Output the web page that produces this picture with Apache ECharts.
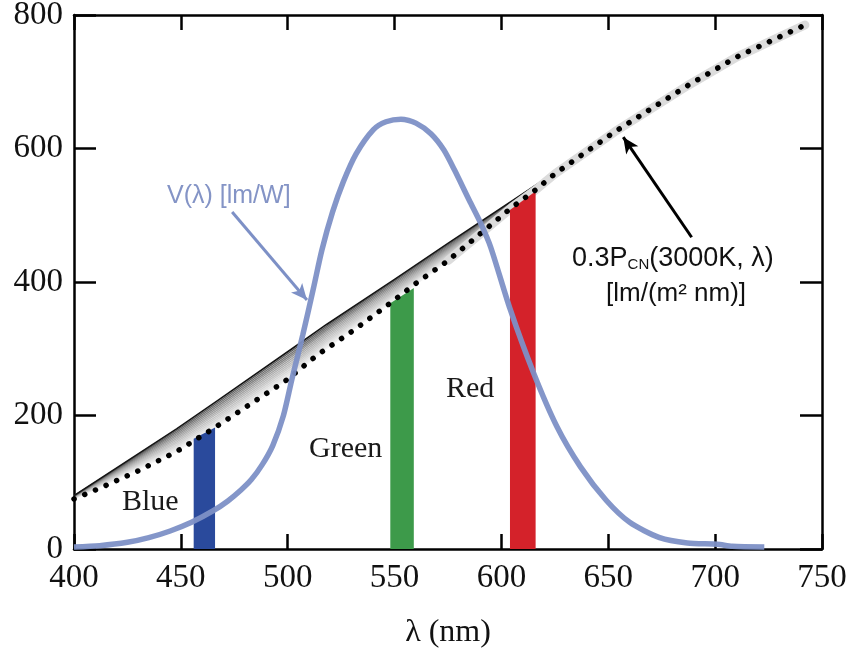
<!DOCTYPE html>
<html>
<head>
<meta charset="utf-8">
<script src="https://cdn.jsdelivr.net/npm/echarts@6/dist/echarts.min.js"></script>
<style>
html,body{margin:0;padding:0;background:#fff;}
#chart{width:855px;height:652px;}
</style>
</head>
<body>
<div id="chart"></div>
<script>
// ---- data ----
const xTicks = [400, 450, 500, 550, 600, 650, 700, 750];
const yTicks = [0, 200, 400, 600, 800];

// V(lambda) [lm/W]
const vLambda = [[400,3],[412,5],[425,10],[435,17],[445,27],[455,40],[465,57],[472,72],[478,88],[483,104],[488,126],[493,155],[498,200],[502,255],[507,320],[512,390],[516,448],[521,505],[526,550],[532,592],[540,628],[546,640],[553,644],[560,638],[567,622],[573,598],[578,568],[585,522],[590,490],[595,452],[604,360],[615,264],[626,183],[637,123],[649,73],[660,40],[674,17],[687,9],[701,7],[708,4],[723,3]];

// 0.3 P_CN(3000K, lambda) dotted curve
const pcn = [[400,75],[412,91],[430,117],[448,146],[465,180],[482,216],[499,252],[514,291],[531,328],[547,366],[560,398],[575,432],[590,472],[605,512],[616,538],[625,562],[653,625],[687,694],[710,737],[742,785]];

// grey fan band: upper (black) edge and lower edge
const bandX     = [400, 448, 467, 502, 518, 550, 576, 600, 615, 625];
const bandUpper = [80, 180, 222, 300, 336, 404, 460, 511, 543, 564];
const bandLower = [75, 146, 183, 259, 300, 373, 434, 497, 536, 562];

// colour bands (area under the P curve)
const blueBand  = [[456,165],[466,182]];
const greenBand = [[548,368],[559,391]];
const redBand   = [[604,508],[616,536]];

// annotation arrows
const vArrow = [[474,505],[509,373]];
const pArrow = [[689,467],[657,617]];

const chart = echarts.init(document.getElementById('chart'));
const serif = 'Liberation Serif, Times New Roman, serif';
const sans = 'Liberation Sans, Arial, sans-serif';

function bandSeries(name, data, color){
  return {
    name, type:'line', data, xAxisIndex:0, yAxisIndex:0,
    showSymbol:false, symbol:'none', z:4,
    lineStyle:{width:0, color},
    areaStyle:{color, opacity:1}
  };
}

const option = {
  animation:false,
  backgroundColor:'#fff',
  grid:{left:74, right:33, top:15, bottom:103, containLabel:false, outerBoundsMode:'none'},
  xAxis:[{
    type:'value', min:400, max:750, interval:50, position:'bottom',
    name:'λ (nm)', nameLocation:'middle', nameGap:68,
    nameTextStyle:{fontFamily:serif, fontSize:32, color:'#111'},
    axisLine:{show:true, onZero:false, lineStyle:{color:'#000', width:2.5}},
    axisTick:{show:true, inside:true, length:15, lineStyle:{color:'#000', width:2.5}},
    axisLabel:{fontFamily:serif, fontSize:33, color:'#111', margin:13},
    splitLine:{show:false}
  },{
    type:'value', min:400, max:750, interval:50, position:'top',
    axisLine:{show:true, onZero:false, lineStyle:{color:'#000', width:2.5}},
    axisTick:{show:true, inside:true, length:15, lineStyle:{color:'#000', width:2.5}},
    axisLabel:{show:false}, splitLine:{show:false}
  }],
  yAxis:[{
    type:'value', min:0, max:800, interval:200, position:'left',
    axisLine:{show:true, onZero:false, lineStyle:{color:'#000', width:2.5}},
    axisTick:{show:true, inside:true, length:22, lineStyle:{color:'#000', width:2.5}},
    axisLabel:{fontFamily:serif, fontSize:33, color:'#111', margin:11},
    splitLine:{show:false}
  },{
    type:'value', min:0, max:800, interval:200, position:'right',
    axisLine:{show:true, onZero:false, lineStyle:{color:'#000', width:2.5}},
    axisTick:{show:true, inside:true, length:22, lineStyle:{color:'#000', width:2.5}},
    axisLabel:{show:false}, splitLine:{show:false}
  }],
  series:[
    {
      name:'band', type:'custom', xAxisIndex:0, yAxisIndex:0, z:2,
      data:[[bandX[0], bandUpper[0]]],
      renderItem:function(params, api){
        const children = [];
        const poly = [];
        bandX.forEach((x,i)=>poly.push(api.coord([x, bandUpper[i]])));
        for(let i=bandX.length-1;i>=0;i--) poly.push(api.coord([bandX[i], bandLower[i]]));
        children.push({type:'polygon', shape:{points:poly}, style:{fill:'#ececec'}});
        const n = 14;
        for(let k=n;k>=0;k--){
          const t = k/n;
          const g = Math.round(20 + 225*Math.pow(t,0.45));
          const pts = bandX.map((x,i)=>api.coord([x, bandUpper[i] + (bandLower[i]-bandUpper[i])*t]));
          children.push({type:'polyline', shape:{points:pts},
            style:{stroke:'rgb('+g+','+g+','+g+')', lineWidth:k===0?1.6:1.3, fill:null}});
        }
        return {type:'group', children};
      }
    },
    {
      name:'pcn halo', type:'line', data:pcn.filter(p=>p[0]>=575), showSymbol:false, symbol:'none', z:3,
      lineStyle:{color:'#dcdcdc', width:9, cap:'round'}
    },
    bandSeries('Blue', blueBand, '#2a4a9c'),
    bandSeries('Green', greenBand, '#3d9a4a'),
    bandSeries('Red', redBand, '#d4222a'),
    {
      name:'0.3PCN', type:'line', data:pcn, showSymbol:false, symbol:'none', z:5,
      lineStyle:{color:'#000', width:5.5, type:[0.1, 11.5], cap:'round'}
    },
    {
      name:'V', type:'line', data:vLambda, showSymbol:false, symbol:'none', smooth:0.25, z:6,
      lineStyle:{color:'#7d90c6', width:5.5, opacity:0.95},
      markLine:{
        silent:true, symbol:['none','arrow'], symbolSize:[11,16],
        label:{show:false},
        data:[
          [{coord:vArrow[0], lineStyle:{color:'#7d90c6', width:3, type:'solid'}},{coord:vArrow[1]}],
          [{coord:pArrow[0], lineStyle:{color:'#000', width:3, type:'solid'}},{coord:pArrow[1]}]
        ]
      }
    }
  ],
  graphic:[
    {type:'text', left:167, top:184, style:{text:'V(λ) [lm/W]', font:'25px '+sans, fill:'#8494c6'}},
    {type:'text', left:572, top:245, style:{
      rich:{
        a:{fontFamily:sans, fontSize:27, fill:'#111', lineHeight:32, verticalAlign:'bottom'},
        s:{fontFamily:sans, fontSize:15, fill:'#111', lineHeight:32, verticalAlign:'bottom'}
      },
      text:'{a|0.3P}{s|CN}{a|(3000K, λ)}'
    }},
    {type:'text', left:606, top:281, style:{text:'[lm/(m² nm)]', font:'26px '+sans, fill:'#111'}},
    {type:'text', left:122, top:487, style:{text:'Blue', font:'30px '+serif, fill:'#1a1a1a'}},
    {type:'text', left:309, top:434, style:{text:'Green', font:'30px '+serif, fill:'#1a1a1a'}},
    {type:'text', left:446, top:374, style:{text:'Red', font:'30px '+serif, fill:'#1a1a1a'}}
  ]
};
chart.setOption(option);
</script>
</body>
</html>
